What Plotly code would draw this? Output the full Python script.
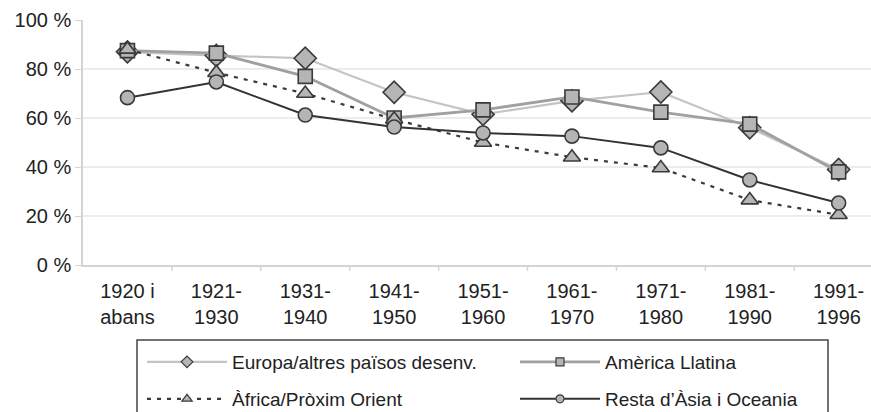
import plotly.graph_objects as go

categories = ["1920 i<br>abans", "1921-<br>1930", "1931-<br>1940", "1941-<br>1950", "1951-<br>1960",
              "1961-<br>1970", "1971-<br>1980", "1981-<br>1990", "1991-<br>1996"]
europa = [87, 85.5, 84.4, 70.5, 61.5, 67, 70.6, 56, 39]
america = [87.5, 86.5, 77, 60, 63.3, 68.6, 62.4, 57.5, 38]
africa = [88, 78.5, 70, 59.5, 50, 44, 39.6, 26.5, 20.5]
resta = [68.3, 74.7, 61.2, 56.3, 53.9, 52.6, 47.8, 34.7, 25.3]
yticks = [0, 20, 40, 60, 80, 100]
ytick_labels = ["0 %", "20 %", "40 %", "60 %", "80 %", "100 %"]

W, H = 871, 412
L, T, B = 83, 20, 147
pw, ph = W - L, H - T - B
xs = list(range(len(categories)))
FONT = "Liberation Sans, Arial, sans-serif"
mfill = "#b5b5b5"
mline = dict(color="#3a3a3a", width=1.6)

series = [
    dict(name="Europa/altres països desenv.", y=europa, line=dict(color="#c4c4c4", width=2.2),
         symbol="diamond", size=17, lsize=9, legend="legend", lx=142, ly=362),
    dict(name="Amèrica Llatina", y=america, line=dict(color="#a0a0a0", width=2.8),
         symbol="square", size=14, lsize=8, legend="legend2", lx=515, ly=362),
    dict(name="Àfrica/Pròxim Orient", y=africa, line=dict(color="#3a3a3a", width=2.2, dash="4px,6px"),
         symbol="triangle-up", size=15, lsize=9, legend="legend3", lx=142, ly=399),
    dict(name="Resta d’Àsia i Oceania", y=resta, line=dict(color="#333333", width=2),
         symbol="circle", size=14, lsize=8, legend="legend4", lx=515, ly=399),
]

fig = go.Figure()
for s in series:
    fig.add_trace(go.Scatter(x=xs, y=s["y"], name=s["name"], mode="lines+markers", line=s["line"],
                             marker=dict(symbol=s["symbol"], size=s["size"], color=mfill, line=mline),
                             showlegend=False))
for s in series:
    # legend-only entry with smaller marker
    fig.add_trace(go.Scatter(x=[None], y=[None], name=s["name"], mode="lines+markers", line=s["line"],
                             marker=dict(symbol=s["symbol"], size=s["lsize"], color=mfill,
                                         line=dict(color="#3a3a3a", width=1.2)),
                             legend=s["legend"], showlegend=True))

leg_common = dict(orientation="v", xref="container", yref="container", xanchor="left", yanchor="middle",
                  font=dict(family=FONT, size=19, color="#222"), bgcolor="rgba(0,0,0,0)",
                  itemwidth=80, borderwidth=0)
legends = {s["legend"]: dict(x=s["lx"] / W, y=1 - s["ly"] / H, **leg_common) for s in series}

fig.update_layout(
    width=W, height=H,
    margin=dict(l=L, r=0, t=T, b=B, pad=0, autoexpand=False),
    paper_bgcolor="white", plot_bgcolor="white",
    font=dict(family=FONT, size=20, color="#222"),
    showlegend=True,
    **legends,
    xaxis=dict(range=[-0.5, -0.5 + pw / 88.9], tickmode="array", tickvals=xs, ticktext=categories,
               showgrid=False, showline=True, linecolor="#d4d4d4", linewidth=1.5, automargin=False,
               ticks="", zeroline=False, ticklabelstandoff=7, tickfont=dict(size=20, color="#222")),
    yaxis=dict(range=[0, 100], tickmode="array", tickvals=yticks, ticktext=ytick_labels,
               showgrid=True, gridcolor="#ececec", gridwidth=1.5, showline=True, linecolor="#d4d4d4",
               linewidth=1.5, ticks="outside", ticklen=6, tickcolor="#d4d4d4", zeroline=False,
               automargin=False, tickfont=dict(size=20, color="#222")),
)
# category boundary tick marks on x axis
for i in range(1, len(categories)):
    xb = i - 0.5
    fig.add_shape(type="line", xref="x", yref="paper", x0=xb, x1=xb, y0=0, y1=-6 / ph,
                  line=dict(color="#d4d4d4", width=1.5))
# legend border
fig.add_shape(type="rect", xref="paper", yref="paper",
              x0=(137 - L) / pw, x1=(828 - L) / pw,
              y0=(H - B - 340) / ph, y1=(H - B - 430) / ph,
              line=dict(color="#444", width=1.5), fillcolor="rgba(0,0,0,0)")

fig.write_html("out.html")
